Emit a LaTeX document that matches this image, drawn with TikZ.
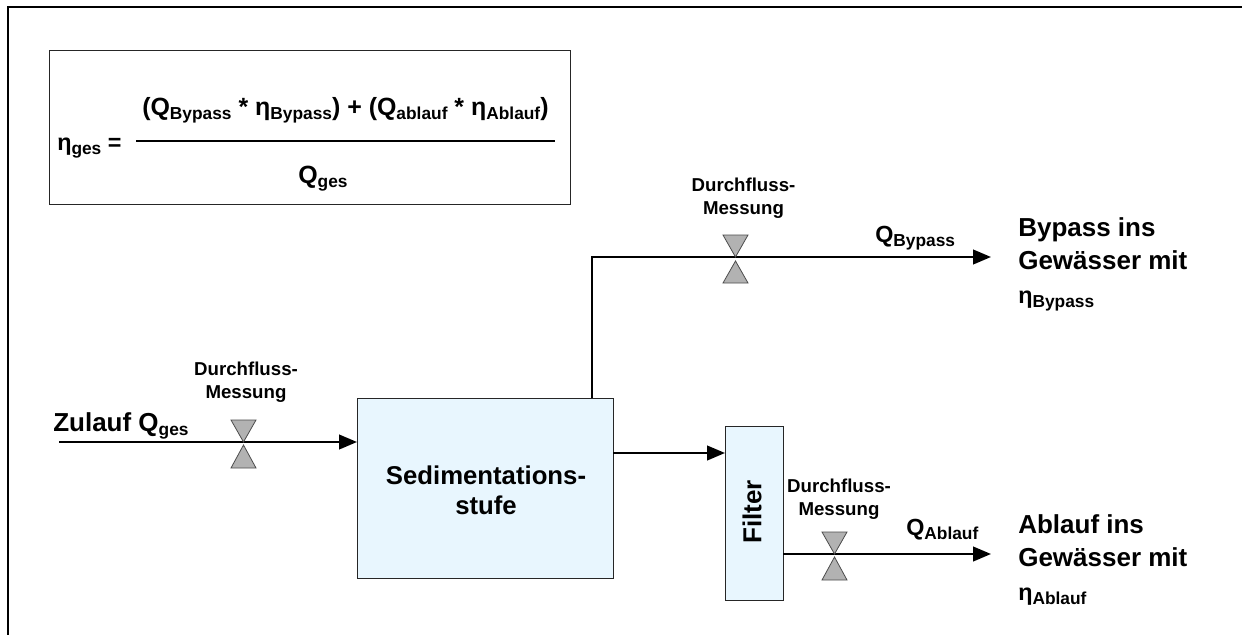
\documentclass[tikz,border=0pt]{standalone}
\usepackage{fontspec}
\setmainfont{Liberation Sans}[BoldFont={Liberation Sans Bold}]
\usetikzlibrary{arrows.meta}
\newcommand{\subt}[1]{{\fontsize{13}{13}\selectfont\raisebox{-0.24em}{#1}}}
\definecolor{cboxfill}{HTML}{E8F6FE}
\tikzset{
  frameline/.style={line width=1.6pt,black},
  boxthin/.style={draw=black!85,line width=0.9pt},
  flow/.style={line width=1.6pt,black},
  flowtip/.style={-{Triangle[length=13.5pt,width=11pt]}},
  bluebox/.style={boxthin,fill=cboxfill},
  valvetri/.style={draw=black!70,line width=0.6pt,fill=black!30},
  formula/.style={font=\fontsize{18.7}{20}\selectfont\bfseries,inner sep=0pt},
  big/.style={font=\fontsize{17.5}{20}\selectfont\bfseries,inner sep=0pt},
  mid/.style={font=\fontsize{19.5}{22}\selectfont\bfseries,inner sep=0pt},
  sedlabel/.style={font=\fontsize{19.3}{22.5}\selectfont\bfseries,inner sep=0pt,align=center},
  filterlabel/.style={font=\fontsize{19.5}{22}\selectfont\bfseries,inner sep=0pt},
  small/.style={font=\fontsize{14}{17.6}\selectfont\bfseries,inner sep=0pt,align=center},
}
\begin{document}
\begin{tikzpicture}[x=0.75pt,y=-0.75pt]
\useasboundingbox (0,0) rectangle (1242,635);
\fill[white] (0,0) rectangle (1242,635);
% frame
\draw[frameline] (7.7,640) -- (7.7,6.8) -- (1245,6.8);
% formula
\node[boxthin,minimum width=390.75pt,minimum height=115.5pt,anchor=north west,inner sep=0pt] (fbox) at (49,50) {};
\node[formula,anchor=base west] (fnum) at (142,115) {(Q\subt{Bypass} * η\subt{Bypass}) + (Q\subt{ablauf} * η\subt{Ablauf})};
\node[big,anchor=base west] (flhs) at (57,150) {η\subt{ges} =};
\node[formula,anchor=base west] (fden) at (298,183) {Q\subt{ges}};
\coordinate (fa) at (136,141);
\coordinate (fb) at (555,141);
\draw[line width=1.5pt] (fa) -- (fb);
% boxes
\node[bluebox,anchor=north west,minimum width=192pt,minimum height=135pt,inner sep=0pt] (sed) at (357,398) {};
\node[sedlabel] (sedt) at (486,490) {Sedimentations-\\stufe};
\node[bluebox,anchor=north west,minimum width=43.5pt,minimum height=130.5pt,inner sep=0pt] (filter) at (725,426) {};
\node[filterlabel,rotate=90] (filtert) at (752,512) {Filter};
% connectors
\coordinate (zin) at (59,442);
\coordinate (sedin) at (357,442);
\draw[flow,flowtip] (zin) -- (sedin);
\coordinate (bstart) at (592,398);
\coordinate (bcorner) at (592,257);
\coordinate (bend) at (991,257);
\draw[flow,flowtip] (bstart) -- (bcorner) -- (bend);
\coordinate (fs) at (613,453);
\coordinate (fe) at (725,453);
\draw[flow,flowtip] (fs) -- (fe);
\coordinate (as) at (783,554);
\coordinate (ae) at (991,554);
\draw[flow,flowtip] (as) -- (ae);
% valves
\draw[valvetri] (231,420) -- (256,420) -- (243.5,442) -- cycle;
\draw[valvetri] (231,468) -- (256,468) -- (243.5,445) -- cycle;
\draw[valvetri] (723,235) -- (748,235) -- (735.5,257) -- cycle;
\draw[valvetri] (723,283) -- (748,283) -- (735.5,261) -- cycle;
\draw[valvetri] (822,532) -- (847,532) -- (834.5,554) -- cycle;
\draw[valvetri] (822,580) -- (847,580) -- (834.5,557) -- cycle;
% labels
\node[small] (d1) at (246,382) {Durchfluss-\\Messung};
\node[small] (d2) at (743.5,198) {Durchfluss-\\Messung};
\node[small] (d3) at (839,499) {Durchfluss-\\Messung};
\node[mid,anchor=base west] (zul) at (53,431) {Zulauf Q\subt{ges}};
\node[big,anchor=base west] (qb) at (875,242) {Q\subt{Bypass}};
\node[big,anchor=base west] (qa) at (906,535) {Q\subt{Ablauf}};
\node[mid,anchor=base west] (b1) at (1018,236) {Bypass ins};
\node[mid,anchor=base west] (b2) at (1018,269) {Gewässer mit};
\node[big,anchor=base west] (b3) at (1018,303) {η\subt{Bypass}};
\node[mid,anchor=base west] (a1) at (1018,533) {Ablauf ins};
\node[mid,anchor=base west] (a2) at (1018,566) {Gewässer mit};
\node[big,anchor=base west] (a3) at (1018,600) {η\subt{Ablauf}};
\end{tikzpicture}
\end{document}
